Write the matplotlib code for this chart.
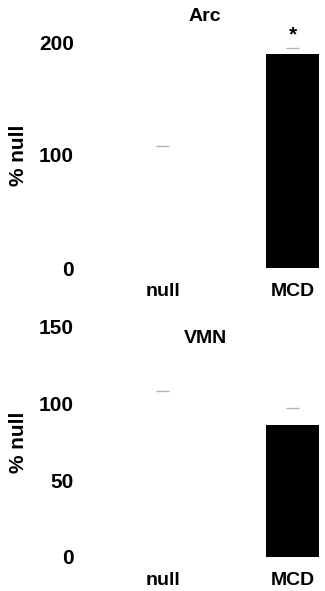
import numpy as np
import matplotlib
matplotlib.use('Agg')
import matplotlib.pyplot as plt

plt.rcParams['font.family'] = ['Liberation Sans', 'DejaVu Sans']
plt.rcParams['font.weight'] = 'bold'

groups = ['null', 'MCD']
arc_mean = [100, 189]
arc_sem = [8, 6]
vmn_mean = [100, 86]
vmn_sem = [8, 11]
bar_colors = ['white', 'black']


def panel(ax, means, sems, ymax, yticks, title, title_y, star):
    x = np.arange(len(groups))
    ax.bar(x, means, width=0.41, color=bar_colors, clip_on=False)
    tops = np.array(means) + np.array(sems)
    ax.hlines(tops, x - 0.05, x + 0.05, color='#b4b4b4', lw=1, clip_on=False)
    if star:
        ax.text(x[1], tops[1] + 3, '*', ha='center', va='bottom',
                fontsize=15, fontweight='bold')
    ax.set_xlim(-0.6, 1.25)
    ax.set_ylim(0, ymax)
    ax.set_yticks(yticks)
    ax.set_xticks(x)
    ax.set_xticklabels(groups, fontsize=14, fontweight='bold')
    ax.tick_params(axis='both', length=0)
    ax.tick_params(axis='y', pad=8, labelsize=15)
    ax.tick_params(axis='x', pad=11)
    for s in ax.spines.values():
        s.set_visible(False)
    ax.set_ylabel('% null', fontsize=15, fontweight='bold', labelpad=0)
    ax.yaxis.set_label_coords(-0.2375, 0.5)
    ax.text(0.5, title_y, title, transform=ax.transAxes, ha='center',
            va='center', fontsize=14, fontweight='bold')


fig = plt.figure(figsize=(3.25, 5.91), dpi=100)
W, H = 325, 591
ax1 = fig.add_axes([85 / W, (H - 268) / H, 240 / W, 226 / H])
ax2 = fig.add_axes([85 / W, (H - 557) / H, 240 / W, 230 / H])

panel(ax1, arc_mean, arc_sem, 200, [0, 100, 200], 'Arc', 1.115, True)
panel(ax2, vmn_mean, vmn_sem, 150, [0, 50, 100, 150], 'VMN', 0.95, False)

fig.savefig('out.png', dpi=100)
